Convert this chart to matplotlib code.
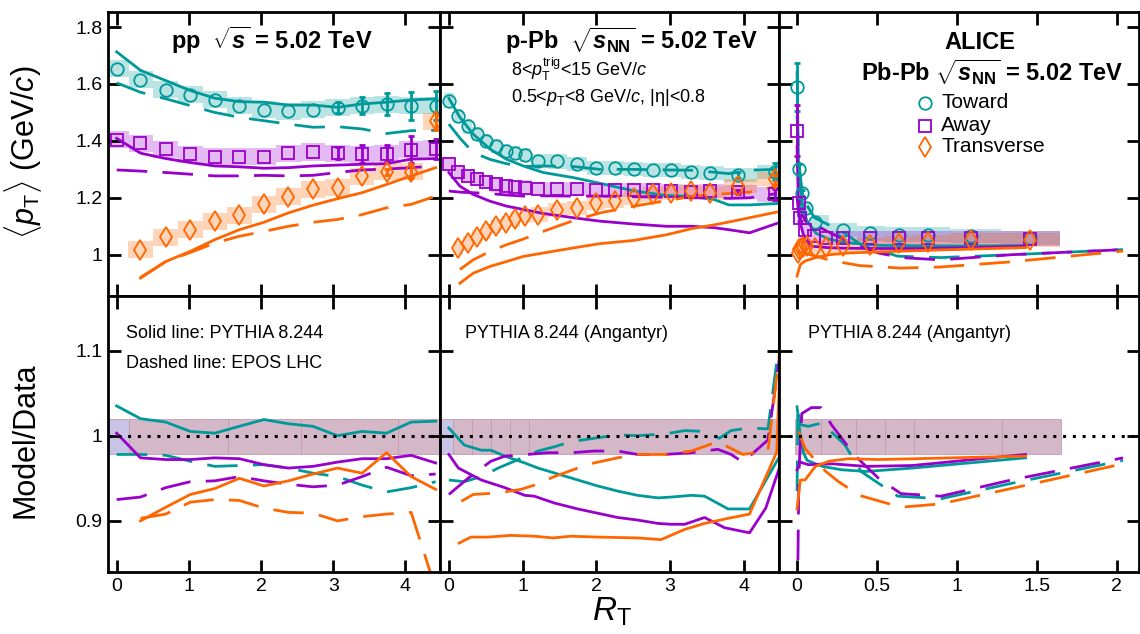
import numpy as np
import matplotlib
matplotlib.use("Agg")
import matplotlib.pyplot as plt

plt.rcParams["font.family"] = ["Liberation Sans", "DejaVu Sans"]
plt.rcParams["mathtext.fontset"] = "custom"
plt.rcParams["mathtext.rm"] = "Liberation Sans"
plt.rcParams["mathtext.it"] = "Liberation Sans:italic"
plt.rcParams["mathtext.bf"] = "Liberation Sans:bold"
try:
    plt.rcParams["mathtext.bfit"] = "Liberation Sans:bold:italic"
    BFIT = r"\mathbfit"
except KeyError:
    BFIT = r"\mathbf"

TEAL = "#009999"
PURP = "#9900cc"
ORNG = "#ff6600"

# ---------------- pp ----------------
pp_x = [0.0, 0.33, 0.68, 1.02, 1.36, 1.70, 2.04, 2.38, 2.72, 3.06, 3.40, 3.74, 4.08, 4.42]
pp_xt = pp_x[1:]
pp_tow = [1.654, 1.615, 1.58, 1.563, 1.545, 1.524, 1.51, 1.504, 1.509, 1.517, 1.524, 1.529, 1.523, 1.524]
pp_tow_stat = [0, 0, 0, 0, 0, 0, 0, 0, 0, 0.02, 0.03, 0.038, 0.05, 0.05]
pp_away = [1.404, 1.392, 1.371, 1.353, 1.344, 1.344, 1.345, 1.357, 1.361, 1.357, 1.353, 1.355, 1.369, 1.373]
pp_away_stat = [0, 0, 0, 0, 0, 0, 0, 0, 0, 0.02, 0.032, 0.03, 0.047, 0.035]
pp_tra = [1.018, 1.061, 1.088, 1.118, 1.138, 1.177, 1.204, 1.23, 1.236, 1.275, 1.291, 1.292, 1.469]
pp_tra_stat = [0, 0, 0, 0, 0, 0, 0, 0, 0, 0, 0.01, 0.024, 0.03]

pp_tow_pyt = [1.713, 1.648, 1.612, 1.577, 1.55, 1.538, 1.536, 1.526, 1.526, 1.518, 1.53, 1.536, 1.544, 1.548]
pp_tow_epos = [1.604, 1.571, 1.548, 1.524, 1.5, 1.483, 1.471, 1.459, 1.448, 1.45, 1.442, 1.426, 1.436, 1.437]
pp_away_pyt = [1.409, 1.357, 1.338, 1.324, 1.312, 1.309, 1.304, 1.306, 1.312, 1.315, 1.318, 1.32, 1.336, 1.338]
pp_away_epos = [1.298, 1.294, 1.289, 1.283, 1.277, 1.277, 1.279, 1.277, 1.279, 1.289, 1.298, 1.301, 1.306, 1.312]
pp_tra_pyt = [0.918, 0.976, 1.012, 1.053, 1.088, 1.114, 1.147, 1.174, 1.197, 1.218, 1.247, 1.277, 1.306]
pp_tra_epos = [0.92, 0.976, 1.008, 1.041, 1.065, 1.082, 1.1, 1.114, 1.124, 1.141, 1.165, 1.177, 1.206]

pp_r_tow_pyt = [1.035, 1.02, 1.016, 1.005, 1.003, 1.011, 1.019, 1.014, 1.011, 1.0, 1.005, 1.003, 1.016, 1.017]
pp_r_tow_epos = [0.978, 0.978, 0.977, 0.97, 0.964, 0.965, 0.966, 0.962, 0.956, 0.952, 0.942, 0.934, 0.939, 0.946]
pp_r_away_pyt = [1.003, 0.974, 0.972, 0.972, 0.974, 0.973, 0.966, 0.962, 0.964, 0.969, 0.973, 0.973, 0.977, 0.968]
pp_r_away_epos = [0.925, 0.928, 0.939, 0.946, 0.947, 0.952, 0.947, 0.943, 0.94, 0.942, 0.952, 0.963, 0.953, 0.955]
pp_r_tra_pyt = [0.9, 0.916, 0.931, 0.938, 0.95, 0.941, 0.947, 0.955, 0.962, 0.956, 0.98, 0.952, 0.937]
pp_r_tra_epos = [0.903, 0.908, 0.922, 0.925, 0.924, 0.915, 0.91, 0.909, 0.9, 0.905, 0.908, 0.91, 0.82]

# ---------------- p-Pb ----------------
pb_x = [0.0, 0.13, 0.26, 0.38, 0.51, 0.64, 0.77, 0.9, 1.03, 1.21, 1.47, 1.74, 2.0, 2.25, 2.51,
        2.77, 3.02, 3.28, 3.54, 3.92, 4.43]
pb_xt = pb_x[1:]
pb_tow = [1.542, 1.487, 1.451, 1.424, 1.40, 1.383, 1.365, 1.357, 1.35, 1.33, 1.328, 1.318, 1.306,
          1.304, 1.30, 1.297, 1.297, 1.292, 1.286, 1.279, 1.292]
pb_tow_stat = [0] * 19 + [0.01, 0.03]
pb_away = [1.318, 1.289, 1.277, 1.265, 1.256, 1.247, 1.241, 1.238, 1.236, 1.232, 1.23, 1.23, 1.227,
           1.227, 1.227, 1.226, 1.225, 1.22, 1.225, 1.22, 1.212]
pb_away_stat = [0] * 19 + [0.008, 0.02]
pb_tra = [1.024, 1.041, 1.062, 1.082, 1.10, 1.112, 1.124, 1.135, 1.141, 1.157, 1.165, 1.183, 1.188,
          1.2, 1.212, 1.218, 1.224, 1.218, 1.241, 1.265]
pb_tra_stat = [0] * 19 + [0.015]

pb_xm = [0.0, 0.15, 0.33, 0.56, 0.78, 1.01, 1.28, 1.69, 2.05, 2.5, 2.95, 3.3, 3.6, 3.8, 4.08, 4.45]
pb_xmt = pb_xm[1:]
pb_tow_pyt = [1.55, 1.483, 1.424, 1.371, 1.336, 1.312, 1.289, 1.271, 1.251, 1.225, 1.208, 1.205,
              1.194, 1.175, 1.175, 1.18]
pb_tow_epos = [1.459, 1.41, 1.359, 1.335, 1.32, 1.31, 1.312, 1.31, 1.30, 1.30, 1.298, 1.297, 1.29,
               1.285, 1.297, 1.30]
pb_away_pyt = [1.289, 1.241, 1.212, 1.188, 1.171, 1.159, 1.145, 1.13, 1.118, 1.108, 1.1, 1.1, 1.095,
               1.088, 1.077, 1.11]
pb_away_epos = [1.224, 1.22, 1.218, 1.215, 1.21, 1.206, 1.207, 1.206, 1.206, 1.204, 1.202, 1.2, 1.2,
                1.198, 1.2, 1.215]
pb_tra_pyt = [0.9, 0.935, 0.959, 0.976, 0.994, 1.006, 1.024, 1.039, 1.05, 1.07, 1.092, 1.105, 1.115,
              1.13, 1.15]
pb_tra_epos = [0.948, 0.982, 1.012, 1.035, 1.055, 1.082, 1.12, 1.147, 1.17, 1.19, 1.205, 1.212, 1.215,
               1.22, 1.24]

pb_r_tow_pyt_x = [0, 0.21, 0.44, 0.57, 0.76, 1.03, 1.21, 1.48, 1.75, 2.02, 2.29, 2.56, 2.84, 3.02,
                  3.29, 3.47, 3.79, 4.08, 4.47]
pb_r_tow_pyt = [1.009, 0.989, 0.983, 0.983, 0.976, 0.968, 0.962, 0.955, 0.948, 0.941, 0.935, 0.93,
                0.927, 0.928, 0.93, 0.929, 0.914, 0.914, 0.973]
pb_r_tow_epos_x = [0, 0.21, 0.44, 0.67, 0.94, 1.21, 1.43, 1.66, 1.97, 2.29, 2.56, 2.93, 3.2, 3.47,
                   3.67, 3.83, 4.06, 4.33, 4.47]
pb_r_tow_epos = [0.948, 0.946, 0.952, 0.962, 0.972, 0.982, 0.987, 0.993, 0.997, 1.001, 1.0, 1.002,
                 1.006, 1.005, 0.997, 1.006, 1.009, 1.008, 1.1]
pb_r_away_pyt_x = [0, 0.13, 0.44, 0.76, 1.03, 1.16, 1.43, 1.75, 2.02, 2.29, 2.56, 2.84, 3.02, 3.2,
                   3.47, 3.74, 4.08, 4.3, 4.5]
pb_r_away_pyt = [0.978, 0.962, 0.948, 0.939, 0.93, 0.929, 0.921, 0.914, 0.909, 0.904, 0.901, 0.897,
                 0.896, 0.896, 0.904, 0.892, 0.886, 0.915, 0.966]
pb_r_away_epos_x = [0, 0.26, 0.57, 0.76, 1.07, 1.34, 1.66, 1.97, 2.29, 2.56, 2.93, 3.29, 3.65, 3.83,
                    3.99, 4.33, 4.5]
pb_r_away_epos = [0.931, 0.95, 0.97, 0.976, 0.978, 0.98, 0.98, 0.982, 0.982, 0.978, 0.978, 0.98,
                  0.984, 0.978, 0.969, 0.995, 1.1]
pb_r_tra_pyt_x = [0.14, 0.3, 0.53, 0.84, 1.16, 1.41, 1.66, 2.02, 2.56, 2.88, 3.2, 3.47, 3.79, 4.08,
                  4.45, 4.5]
pb_r_tra_pyt = [0.874, 0.881, 0.881, 0.883, 0.882, 0.88, 0.882, 0.881, 0.88, 0.878, 0.89, 0.897,
                0.903, 0.908, 0.981, 1.1]
pb_r_tra_epos_x = [0.17, 0.33, 0.69, 0.98, 1.16, 1.43, 1.75, 1.97, 2.29, 2.56, 2.93, 3.29, 3.65,
                   3.99, 4.33, 4.49]
pb_r_tra_epos = [0.923, 0.931, 0.933, 0.937, 0.942, 0.952, 0.962, 0.968, 0.974, 0.978, 0.978, 0.982,
                 0.993, 0.978, 0.982, 1.1]

# ---------------- Pb-Pb ----------------
aa_x_tow = [0.0, 0.01, 0.03, 0.056, 0.115, 0.29, 0.456, 0.64, 0.82, 1.09, 1.46]
aa_tow = [1.59, 1.30, 1.216, 1.165, 1.114, 1.086, 1.075, 1.071, 1.071, 1.065, 1.059]
aa_tow_stat = [0.085, 0.02, 0.01, 0, 0, 0, 0, 0, 0, 0, 0]
aa_x_away = [0.0, 0.01, 0.02, 0.052, 0.108, 0.18, 0.29, 0.456, 0.64, 0.82, 1.09, 1.46]
aa_away = [1.436, 1.183, 1.13, 1.088, 1.065, 1.06, 1.06, 1.06, 1.06, 1.059, 1.058, 1.057]
aa_away_stat = [0.09, 0.02, 0.01, 0, 0, 0, 0, 0, 0, 0, 0, 0]
aa_x_tra = [0.003, 0.012, 0.025, 0.04, 0.06, 0.11, 0.18, 0.29, 0.456, 0.64, 0.82, 1.09, 1.46]
aa_tra = [1.005, 1.02, 1.025, 1.028, 1.03, 1.024, 1.027, 1.032, 1.035, 1.04, 1.046, 1.052, 1.052]

aa_tow_pyt_x = [0.0, 0.01, 0.03, 0.06, 0.12, 0.2, 0.3, 0.5, 0.8, 1.1, 1.43]
aa_tow_pyt = [1.64, 1.29, 1.19, 1.12, 1.075, 1.055, 1.043, 1.033, 1.031, 1.031, 1.032]
aa_tow_epos_x = [0.0, 0.01, 0.03, 0.06, 0.11, 0.18, 0.3, 0.4, 0.63, 0.9, 1.34, 2.04]
aa_tow_epos = [1.49, 1.33, 1.23, 1.175, 1.13, 1.11, 1.075, 1.035, 0.995, 0.99, 1.0, 1.018]
aa_away_pyt_x = [0.0, 0.01, 0.03, 0.05, 0.09, 0.19, 0.3, 0.51, 0.8, 1.1, 1.43]
aa_away_pyt = [1.38, 1.14, 1.09, 1.05, 1.03, 1.025, 1.023, 1.022, 1.022, 1.025, 1.03]
aa_away_epos_x = [0.0, 0.01, 0.02, 0.05, 0.09, 0.15, 0.215, 0.36, 0.51, 0.65, 0.9, 1.34, 2.04]
aa_away_epos = [1.20, 1.15, 1.16, 1.12, 1.10, 1.094, 1.075, 1.035, 1.006, 0.99, 0.982, 1.0, 1.018]
aa_tra_pyt_x = [0.0, 0.02, 0.05, 0.115, 0.2, 0.32, 0.51, 0.9, 1.43]
aa_tra_pyt = [0.925, 0.965, 0.978, 0.99, 1.0, 1.006, 1.01, 1.017, 1.025]
aa_tra_epos_x = [0.005, 0.05, 0.115, 0.18, 0.26, 0.39, 0.65, 0.9, 1.34, 2.04]
aa_tra_epos = [1.01, 1.005, 0.995, 0.985, 0.975, 0.962, 0.953, 0.957, 0.975, 1.013]

aa_r_tow_pyt_x = [0.0, 0.02, 0.04, 0.063, 0.157, 0.28, 0.43, 0.72, 1.43]
aa_r_tow_pyt = [1.034, 1.0, 0.98, 0.971, 0.964, 0.96, 0.958, 0.962, 0.974]
aa_r_tow_epos_x = [0.0, 0.005, 0.02, 0.07, 0.157, 0.3, 0.4, 0.63, 0.9, 1.34, 2.04]
aa_r_tow_epos = [0.935, 1.034, 1.013, 1.011, 1.015, 0.989, 0.958, 0.929, 0.926, 0.944, 0.971]
aa_r_away_pyt_x = [0.0, 0.02, 0.07, 0.22, 0.43, 0.72, 1.43]
aa_r_away_pyt = [0.96, 0.969, 0.966, 0.967, 0.964, 0.965, 0.978]
aa_r_away_epos_x = [0.002, 0.012, 0.03, 0.09, 0.15, 0.215, 0.36, 0.51, 0.65, 0.9, 1.34, 2.04]
aa_r_away_epos = [0.80, 0.96, 1.026, 1.033, 1.033, 1.013, 0.977, 0.95, 0.932, 0.929, 0.948, 0.974]
aa_r_tra_pyt_x = [0.0, 0.02, 0.05, 0.115, 0.2, 0.32, 0.51, 1.43]
aa_r_tra_pyt = [0.914, 0.948, 0.948, 0.964, 0.97, 0.973, 0.972, 0.976]
aa_r_tra_epos_x = [0.01, 0.05, 0.115, 0.18, 0.26, 0.39, 0.65, 0.9, 1.34, 2.04]
aa_r_tra_epos = [1.005, 0.985, 0.971, 0.958, 0.946, 0.93, 0.916, 0.92, 0.938, 0.967]

# systematic sizes and ratio band
pp_syst = 0.03
pb_syst = 0.025
aa_syst = 0.025
band_lo, band_hi = 0.979, 1.02
pp_band_edges = [-0.12, 0.17, 1.54, 2.55, 3.9, 4.48]
pb_band_edges = [-0.12, 0.05, 0.31, 0.57, 0.83, 1.09, 4.48]
aa_band_edges = [-0.01, 0.15, 0.37, 0.55, 0.73, 1.28, 1.65]

DASH = (0, (11, 5.5))


def boxes(ax, x, y, s, color):
    x = np.asarray(x, float)
    y = np.asarray(y, float)
    mid = (x[:-1] + x[1:]) / 2
    lo = np.r_[x[0] - (mid[0] - x[0]), mid]
    hi = np.r_[mid, x[-1] + (x[-1] - mid[-1])]
    ax.bar(lo, 2 * s, width=hi - lo, bottom=y - s, align="edge", color=color,
           alpha=0.27, lw=0, zorder=1)


def stat(ax, x, y, e, color):
    e = np.asarray(e, float)
    m = e > 0
    if m.any():
        ax.errorbar(np.asarray(x)[m], np.asarray(y)[m], yerr=e[m], fmt="none",
                    ecolor=color, elinewidth=2, capsize=2.5, capthick=2, zorder=3)


def points(ax, x, y, color, marker, ms):
    ax.plot(x, y, ls="none", marker=marker, ms=ms, mfc="none", mec=color, mew=1.3, zorder=4)


def model(ax, x, y, color, dashed=False):
    ax.plot(x, y, color=color, lw=2, ls=DASH if dashed else "-", zorder=2)


def band(ax, edges, first_lav=True):
    e = np.asarray(edges, float)
    cols = ["#d4b8c8"] * (len(e) - 1)
    if first_lav:
        cols[0] = "#c9c4e6"
    ax.bar(e[:-1], band_hi - band_lo, width=np.diff(e), bottom=band_lo, align="edge",
           color=cols, edgecolor="#c39cb0", lw=0.6, zorder=1)
    ax.axhline(1.0, color="k", ls=(0, (1, 2.2)), lw=2.2, zorder=2.5)


def style(ax, xt, xtl, yt, ytl):
    ax.set_xticks(xt)
    ax.set_xticklabels(xtl)
    ax.set_yticks(yt)
    ax.set_yticklabels(ytl)
    ax.tick_params(direction="in", length=9, width=2, top=True, right=True,
                   labelsize=14, pad=4)
    for s in ax.spines.values():
        s.set_linewidth(2)


fig = plt.figure(figsize=(11.4, 6.34), dpi=100)
W, H = 1140, 634
cols_px = [(108, 440), (440, 779), (779, 1139)]
top_px = (12, 296)
bot_px = (296, 572)


def make_ax(c, r):
    x0, x1 = cols_px[c]
    y0, y1 = top_px if r == 0 else bot_px
    return fig.add_axes([x0 / W, 1 - y1 / H, (x1 - x0) / W, (y1 - y0) / H])


axT = [make_ax(c, 0) for c in range(3)]
axB = [make_ax(c, 1) for c in range(3)]

yt_top = [1.0, 1.2, 1.4, 1.6, 1.8]
yt_bot = [0.9, 1.0, 1.1]
for i in range(3):
    if i < 2:
        xt, xl, xlim = [0, 1, 2, 3, 4], ["0", "1", "2", "3", "4"], (-0.12, 4.48)
    else:
        xt, xl, xlim = [0, 0.5, 1, 1.5, 2], ["0", "0.5", "1", "1.5", "2"], (-0.113, 2.14)
    style(axT[i], xt, [""] * len(xt), yt_top,
          ["1", "1.2", "1.4", "1.6", "1.8"] if i == 0 else [""] * 5)
    style(axB[i], xt, xl, yt_bot, ["0.9", "1", "1.1"] if i == 0 else [""] * 3)
    axT[i].set_xlim(xlim)
    axB[i].set_xlim(xlim)
    axT[i].set_ylim(0.855, 1.853)
    axB[i].set_ylim(0.84, 1.164)

DMS = 10.5  # diamond marker size

# ---- pp panel
a = axT[0]
boxes(a, pp_x, pp_tow, pp_syst, TEAL)
boxes(a, pp_x, pp_away, pp_syst, PURP)
boxes(a, pp_xt, pp_tra, pp_syst, ORNG)
model(a, pp_x, pp_tow_pyt, TEAL)
model(a, pp_x, pp_tow_epos, TEAL, True)
model(a, pp_x, pp_away_pyt, PURP)
model(a, pp_x, pp_away_epos, PURP, True)
model(a, pp_xt, pp_tra_pyt, ORNG)
model(a, pp_xt, pp_tra_epos, ORNG, True)
stat(a, pp_x, pp_tow, pp_tow_stat, TEAL)
stat(a, pp_x, pp_away, pp_away_stat, PURP)
stat(a, pp_xt, pp_tra, pp_tra_stat, ORNG)
points(a, pp_x, pp_tow, TEAL, "o", 9)
points(a, pp_x, pp_away, PURP, "s", 8.5)
points(a, pp_xt, pp_tra, ORNG, "d", DMS)
a.text(0.494, 0.90, r"pp  $\sqrt{" + BFIT + r"{s}}$ = 5.02 TeV", transform=a.transAxes,
       ha="center", va="center", fontsize=17, fontweight="bold")

b = axB[0]
band(b, pp_band_edges)
model(b, pp_x, pp_r_tow_pyt, TEAL)
model(b, pp_x, pp_r_tow_epos, TEAL, True)
model(b, pp_x, pp_r_away_pyt, PURP)
model(b, pp_x, pp_r_away_epos, PURP, True)
model(b, pp_xt, pp_r_tra_pyt, ORNG)
model(b, pp_xt, pp_r_tra_epos, ORNG, True)
b.text(0.054, 0.865, "Solid line: PYTHIA 8.244", transform=b.transAxes, ha="left",
       va="center", fontsize=13)
b.text(0.054, 0.755, "Dashed line: EPOS LHC", transform=b.transAxes, ha="left",
       va="center", fontsize=13)

# ---- p-Pb panel
a = axT[1]
boxes(a, pb_x, pb_tow, pb_syst, TEAL)
boxes(a, pb_x, pb_away, pb_syst, PURP)
boxes(a, pb_xt, pb_tra, pb_syst, ORNG)
model(a, pb_xm, pb_tow_pyt, TEAL)
model(a, pb_xm, pb_tow_epos, TEAL, True)
model(a, pb_xm, pb_away_pyt, PURP)
model(a, pb_xm, pb_away_epos, PURP, True)
model(a, pb_xmt, pb_tra_pyt, ORNG)
model(a, pb_xmt, pb_tra_epos, ORNG, True)
stat(a, pb_x, pb_tow, pb_tow_stat, TEAL)
stat(a, pb_x, pb_away, pb_away_stat, PURP)
stat(a, pb_xt, pb_tra, pb_tra_stat, ORNG)
points(a, pb_x, pb_tow, TEAL, "o", 9)
points(a, pb_x, pb_away, PURP, "s", 8.5)
points(a, pb_xt, pb_tra, ORNG, "d", DMS)
a.text(0.566, 0.90, r"p-Pb  $\sqrt{" + BFIT + r"{s}_{\mathbf{NN}}}$ = 5.02 TeV",
       transform=a.transAxes, ha="center", va="center", fontsize=17, fontweight="bold")
a.text(0.209, 0.797, r"8<$p_{\mathrm{T}}^{\mathrm{trig}}$<15 GeV/$c$", transform=a.transAxes,
       ha="left", va="center", fontsize=13)
a.text(0.209, 0.70, r"0.5<$p_{\mathrm{T}}$<8 GeV/$c$, |η|<0.8", transform=a.transAxes,
       ha="left", va="center", fontsize=13)

b = axB[1]
band(b, pb_band_edges)
model(b, pb_r_tow_pyt_x, pb_r_tow_pyt, TEAL)
model(b, pb_r_tow_epos_x, pb_r_tow_epos, TEAL, True)
model(b, pb_r_away_pyt_x, pb_r_away_pyt, PURP)
model(b, pb_r_away_epos_x, pb_r_away_epos, PURP, True)
model(b, pb_r_tra_pyt_x, pb_r_tra_pyt, ORNG)
model(b, pb_r_tra_epos_x, pb_r_tra_epos, ORNG, True)
b.text(0.074, 0.865, "PYTHIA 8.244 (Angantyr)", transform=b.transAxes, ha="left",
       va="center", fontsize=13)

# ---- Pb-Pb panel
a = axT[2]
boxes(a, aa_x_tow, aa_tow, aa_syst, TEAL)
boxes(a, aa_x_away, aa_away, aa_syst, PURP)
boxes(a, aa_x_tra, aa_tra, aa_syst, ORNG)
model(a, aa_tow_pyt_x, aa_tow_pyt, TEAL)
model(a, aa_tow_epos_x, aa_tow_epos, TEAL, True)
model(a, aa_away_pyt_x, aa_away_pyt, PURP)
model(a, aa_away_epos_x, aa_away_epos, PURP, True)
model(a, aa_tra_pyt_x, aa_tra_pyt, ORNG)
model(a, aa_tra_epos_x, aa_tra_epos, ORNG, True)
stat(a, aa_x_tow, aa_tow, aa_tow_stat, TEAL)
stat(a, aa_x_away, aa_away, aa_away_stat, PURP)
points(a, aa_x_tow, aa_tow, TEAL, "o", 9)
points(a, aa_x_away, aa_away, PURP, "s", 8.5)
points(a, aa_x_tra, aa_tra, ORNG, "d", DMS)
a.text(0.558, 0.894, "ALICE", transform=a.transAxes, ha="center", va="center",
       fontsize=17, fontweight="bold")
a.text(0.592, 0.789, r"Pb-Pb $\sqrt{" + BFIT + r"{s}_{\mathbf{NN}}}$ = 5.02 TeV",
       transform=a.transAxes, ha="center", va="center", fontsize=17, fontweight="bold")
legend_rows = [("Toward", TEAL, "o", 9, 0.68), ("Away", PURP, "s", 8.5, 0.599),
               ("Transverse", ORNG, "d", DMS, 0.525)]
for lab, c, m, ms, yy in legend_rows:
    a.plot([0.406], [yy], transform=a.transAxes, ls="none", marker=m, ms=ms, mfc="none",
           mec=c, mew=1.3, clip_on=False)
    a.text(0.45, yy, lab, transform=a.transAxes, ha="left", va="center", fontsize=15)

b = axB[2]
band(b, aa_band_edges, first_lav=False)
model(b, aa_r_tow_pyt_x, aa_r_tow_pyt, TEAL)
model(b, aa_r_tow_epos_x, aa_r_tow_epos, TEAL, True)
model(b, aa_r_away_pyt_x, aa_r_away_pyt, PURP)
model(b, aa_r_away_epos_x, aa_r_away_epos, PURP, True)
model(b, aa_r_tra_pyt_x, aa_r_tra_pyt, ORNG)
model(b, aa_r_tra_epos_x, aa_r_tra_epos, ORNG, True)
b.text(0.08, 0.865, "PYTHIA 8.244 (Angantyr)", transform=b.transAxes, ha="left",
       va="center", fontsize=13)

fig.text(0.02, 0.76, r"$\langle p_{\mathrm{T}}\rangle$ (GeV/$c$)", rotation=90,
         ha="center", va="center", fontsize=22)
fig.text(0.022, 0.306, "Model/Data", rotation=90, ha="center", va="center", fontsize=22)
fig.text(0.537, 0.035, r"$R_{\mathrm{T}}$", ha="center", va="center", fontsize=24)

fig.savefig("out.png", dpi=100)
